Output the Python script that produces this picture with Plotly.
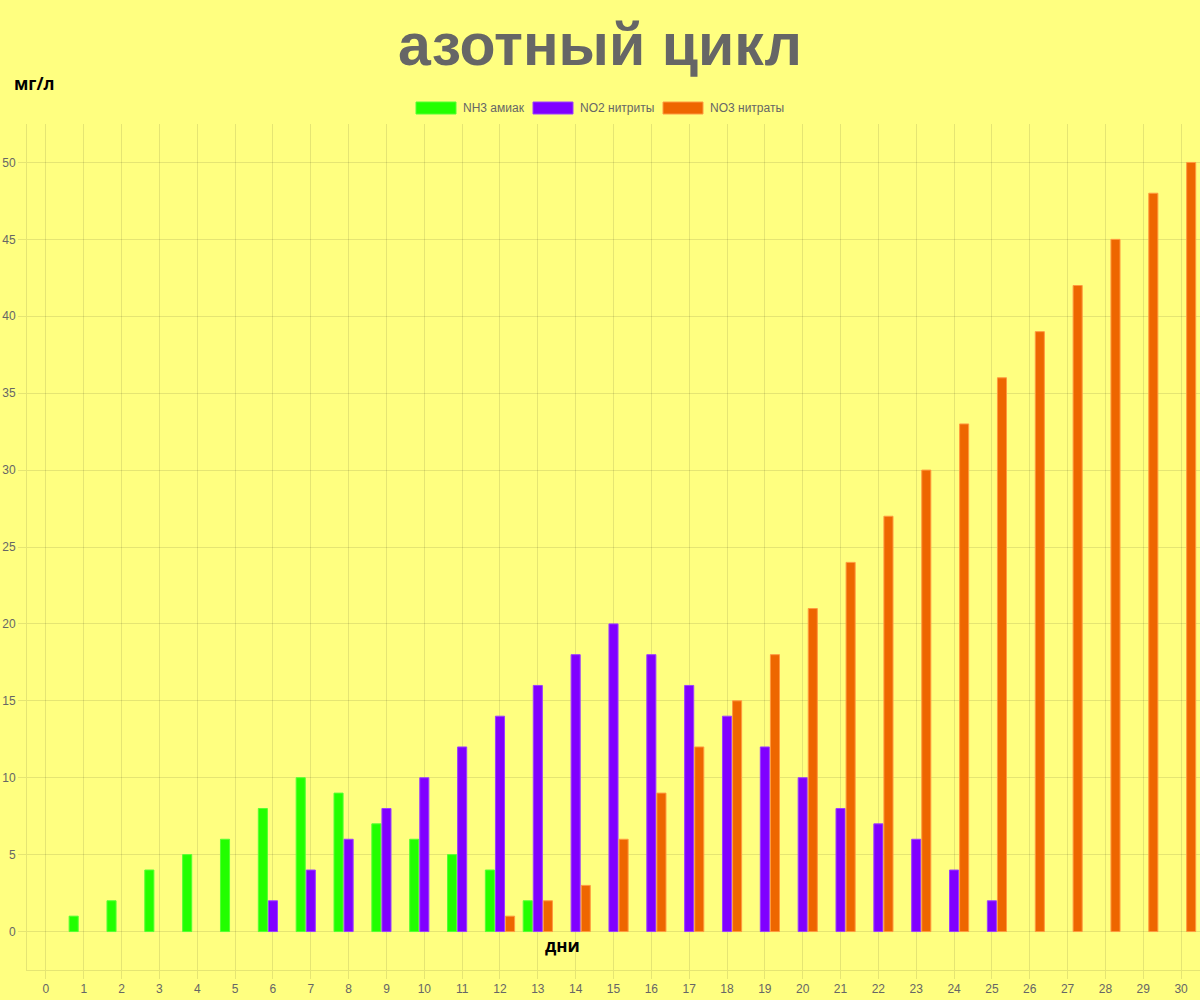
import plotly.graph_objects as go

days = list(range(0, 31))
nh3 = [None, 1, 2, 4, 5, 6, 8, 10, 9, 7, 6, 5, 4, 2] + [None] * 17
no2 = [None] * 6 + [2, 4, 6, 8, 10, 12, 14, 16, 18, 20, 18, 16, 14, 12, 10, 8, 7, 6, 4, 2] + [None] * 5
no3 = [None] * 12 + [1, 2, 3, 6, 9, 12, 15, 18, 21, 24, 27, 30, 33, 36, 39, 42, 45, 48, 50]

series_names = ["NH3 амиак", "NO2 нитриты", "NO3 нитраты"]
fill_colors = ["#22ff00", "#8000ff", "#ee6600"]
line_colors = ["#55ff33", "#9a40ff", "#ff9a40"]

W, H = 1200, 1000
L, R, T, B = 27, 0, 124, 30
PW, PH = W - L - R, H - T - B


def px(x):
    return (x - L) / PW


def py(y):
    return (H - B - y) / PH


fig = go.Figure()
for name, vals, fc, lc in zip(series_names, [nh3, no2, no3], fill_colors, line_colors):
    fig.add_trace(go.Bar(
        x=days, y=vals, name=name,
        marker=dict(color=fc, line=dict(color=lc, width=1)),
        showlegend=False,
    ))

grid = "rgba(0,0,0,0.1)"
tickfont = dict(family="Liberation Sans, Arial, sans-serif", size=12, color="#666666")

fig.update_layout(
    width=W, height=H,
    paper_bgcolor="#ffff80", plot_bgcolor="#ffff80",
    margin=dict(l=L, r=R, t=T, b=B, autoexpand=False),
    barmode="group", bargap=0.2, bargroupgap=0.1,
    title=dict(text="<b>азотный цикл</b>", x=0.5, xanchor="center",
               y=1 - 44 / H, yanchor="middle", yref="container",
               font=dict(family="Liberation Sans, Arial, sans-serif", size=59, color="#666666")),
    xaxis=dict(range=[-0.5, 30.5], tickmode="array", tickvals=days, ticktext=[str(d) for d in days],
               showgrid=True, gridcolor=grid, gridwidth=1,
               showline=True, linecolor=grid, linewidth=1,
               ticks="outside", ticklen=8, tickcolor=grid, tickfont=tickfont,
               zeroline=False, fixedrange=True),
    yaxis=dict(range=[-2.5, 52.5], tickmode="array", tickvals=list(range(0, 51, 5)),
               showgrid=True, gridcolor=grid, gridwidth=1,
               showline=True, linecolor=grid, linewidth=1,
               ticks="outside", ticklen=8, tickcolor=grid, tickfont=tickfont,
               zeroline=True, zerolinecolor=grid, zerolinewidth=1, fixedrange=True),
    font=dict(family="Liberation Sans, Arial, sans-serif"),
)

# axis captions
fig.add_annotation(text="<b>мг/л</b>", xref="paper", yref="paper", x=px(12), y=py(83),
                   xanchor="left", yanchor="middle", showarrow=False,
                   font=dict(family="Open Sans, sans-serif", size=17, color="#000000"))
fig.add_annotation(text="<b>дни</b>", xref="paper", yref="paper", x=px(562), y=py(945),
                   xanchor="center", yanchor="middle", showarrow=False,
                   font=dict(family="Open Sans, sans-serif", size=17, color="#000000"))

# custom legend (wide boxes, Chart.js style)
legend_box_x = [416, 533, 663]
for name, fc, lc, bx in zip(series_names, fill_colors, line_colors, legend_box_x):
    fig.add_shape(type="rect", xref="paper", yref="paper",
                  x0=px(bx), x1=px(bx + 40), y0=py(114), y1=py(102),
                  fillcolor=fc, line=dict(color=lc, width=1))
    fig.add_annotation(text=name, xref="paper", yref="paper", x=px(bx + 45), y=py(108),
                       xanchor="left", yanchor="middle", showarrow=False,
                       font=dict(family="Liberation Sans, Arial, sans-serif", size=12, color="#666666"))

fig.write_html("out.html",
               config={"displayModeBar": False, "staticPlot": True},
               post_script="document.body.style.margin='0';document.body.style.overflow='hidden';")
